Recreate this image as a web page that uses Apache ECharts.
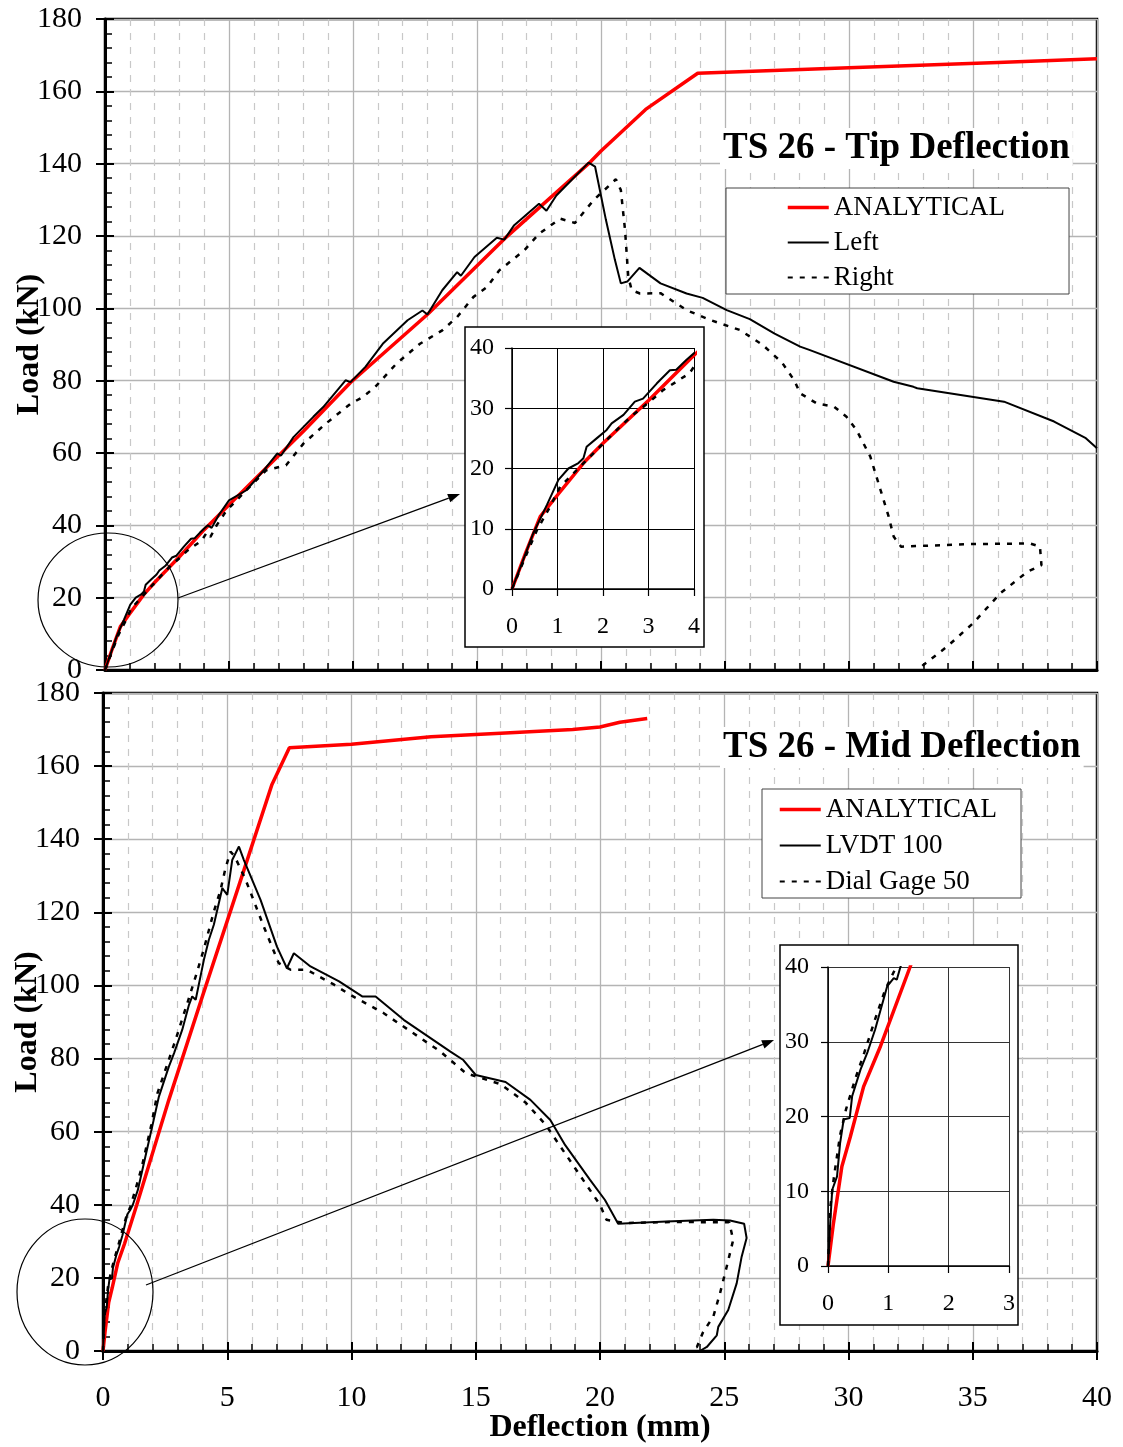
<!DOCTYPE html>
<html>
<head>
<meta charset="utf-8">
<script src="https://cdn.jsdelivr.net/npm/echarts@6.0.0/dist/echarts.min.js"></script>
<style>
  body { margin: 0; background: #fff; }
  #main { width: 1123px; height: 1447px; }
</style>
</head>
<body>
<div id="main"></div>
<script>
// 数据：[挠度 mm, 荷载 kN]
const tipAnalytical = [[0,0],[0.3,6],[0.62,12],[1,15.6],[1.57,20.9],[2,24.2],[3,31.3],[4,38.8],[6,52.5],[8,66],[9.9,79.5],[13,98.3],[16.1,119.2],[19.5,140],[20,143.5],[21.8,155],[23.9,165],[30,166.5],[36,168],[40,169]];
const tipLeft = [[0,0],[0.22,4.3],[0.47,9.3],[0.77,14],[1.02,18.1],[1.24,20],[1.46,20.9],[1.57,21.7],[1.64,23.6],[1.86,25],[2.08,26.4],[2.19,27.5],[2.45,28.9],[2.7,31.1],[2.88,31.6],[3.18,34.1],[3.47,36.3],[3.61,36.4],[3.83,38],[4.01,39.2],[4.15,40],[4.3,39.3],[4.6,43],[5,46.9],[5.7,49.7],[6.4,55.2],[6.95,59.9],[7.1,59.3],[7.6,64.4],[8.4,70],[8.8,72.7],[9.7,80.1],[9.9,79.6],[10.5,83.8],[11.2,90.2],[12.2,96.7],[12.8,99.4],[13,98.3],[13.6,105],[14.2,110],[14.35,109],[14.9,114.2],[15.8,119.5],[16.1,119],[16.5,123],[17.5,128.9],[17.8,127],[18.2,131.2],[19,136.8],[19.5,140.3],[19.76,139.2],[20.2,124.4],[20.56,113.4],[20.8,106.9],[21.06,107.4],[21.55,111.2],[22.4,106.9],[23.45,104.1],[24.1,102.9],[25.07,99.5],[26,97],[27,93],[28.03,89.4],[28.4,88.5],[31.8,79.7],[32.6,78.3],[32.75,77.9],[36.25,74.2],[38.27,68.7],[39.55,64.1],[40,61.3]];
const tipRight = [[0,0],[0.36,6.5],[0.55,9.8],[0.84,13.7],[1.06,17],[1.35,19.2],[1.64,21.4],[1.97,23.9],[2.37,26.9],[2.66,28.9],[3.03,31.1],[3.32,33],[3.9,35.8],[4.1,38],[4.25,36.8],[4.5,40],[4.9,44.1],[5.7,49.7],[6.5,55.2],[7.3,56.6],[8,62.6],[8.9,68.1],[9.9,73.6],[10.4,75.5],[10.9,78.3],[11.75,84.7],[12.7,90.2],[13.6,93.9],[14.2,97.6],[14.85,103.1],[15.4,105.9],[15.9,110.5],[16.9,116],[17.5,120.6],[18.35,124.8],[18.95,123.6],[19.7,129.9],[20.6,135.7],[20.8,132.7],[20.97,121.6],[21.1,108.7],[21.24,105],[21.57,104.1],[22.4,104.2],[23.45,99.5],[24.4,96.8],[25.6,94],[26.5,90],[27.3,85],[27.8,80],[28.03,76.5],[28.7,73.7],[29.4,72.8],[29.9,70],[30.3,66.4],[30.86,59],[31.27,49.8],[31.6,42.4],[31.8,36.9],[32.1,34.1],[34.8,34.8],[37.3,35],[37.7,34.1],[37.76,29],[37.2,27.2],[36.1,21.2],[35,12.9],[33.96,6.5],[33,1.4],[32.8,0]];

const midAnalytical = [[0,0],[0.09,5.7],[0.23,13.3],[0.37,17.3],[0.59,24],[0.87,29.4],[1.36,40],[2.65,68.7],[4,97],[5.5,128],[6.8,155],[7.5,165],[10,166],[13.2,168],[16,169],[18.9,170],[20,170.7],[20.8,172],[21.9,173]];
const midLvdt = [[0,0],[0.04,6.2],[0.07,10.2],[0.15,12],[0.2,16.4],[0.26,19.6],[0.36,19.8],[0.4,22.7],[0.54,26.3],[0.65,28.5],[0.78,31.6],[0.98,37.4],[1.09,38.5],[1.14,38.3],[1.2,40],[1.4,44],[1.6,50],[1.8,56],[2,62],[2.25,69.6],[2.65,77.8],[2.86,81.5],[3.19,87.9],[3.46,94.7],[3.59,97],[3.73,96.1],[4.06,107],[4.26,112.5],[4.46,116.6],[4.8,126.6],[5,124.8],[5.2,134.3],[5.47,138],[5.67,134.3],[6.34,123.4],[7,110.6],[7.4,104.7],[7.68,108.8],[8.35,105.2],[9.5,101.1],[10.43,97],[10.97,97],[12.1,90.6],[13.98,81.9],[14.5,79.6],[15,75.5],[16.2,73.6],[17.2,68.7],[18,63.2],[18.6,56.3],[19.6,46.8],[20.2,41.3],[20.73,34.8],[22.67,35.4],[24.56,35.9],[25.23,35.7],[25.8,34.8],[25.9,30.9],[25.7,25.8],[25.5,18.5],[25.16,11.2],[24.76,6.6],[24.7,4.3],[24.3,1.1],[24.02,0]];
const midDial = [[0,0],[0.04,8],[0.1,12],[0.2,17.5],[0.3,21],[0.45,25],[0.6,28.5],[0.78,33],[0.95,37],[1.1,39.5],[1.3,44],[1.55,50],[1.75,56],[1.95,62],[2.19,70.5],[2.92,85.1],[3.39,95.1],[3.8,104],[4.06,110],[4.46,120.2],[4.73,126.1],[4.93,132.1],[5.13,136.6],[5.3,135.3],[5.74,128.9],[6.47,116.1],[7.07,106.1],[7.55,104.3],[8.2,104.3],[9.3,100.2],[9.96,97.4],[11.3,92.4],[13.58,81.9],[14.6,76],[16,73],[17,68],[17.8,62],[19,50],[20,40],[20.26,35.9],[21,35],[23,35.3],[25.2,35.2],[25.36,30.4],[25.1,23.1],[24.83,15.8],[24.56,9.4],[24.15,5.2],[23.9,1.1],[23.68,0.6]];

const tipLegend = ['ANALYTICAL', 'Left', 'Right'];
const midLegend = ['ANALYTICAL', 'LVDT 100', 'Dial Gage 50'];

const SERIF = "'Liberation Serif', 'Times New Roman', serif";

let myChart = echarts.init(document.getElementById('main'));

// 线型：红色分析线、黑实线、黑虚线
const STYLES = {
  red: { color: '#ff0000', width: 3.5 },
  solid: { color: '#000', width: 2 },
  dash: { color: '#000', width: 2.5, type: [5, 7] }
};

// 主图坐标轴（A：标签+内刻度，B：外刻度）
function mainAxisA(gridIndex, pos, max, interval, showLabel, name, nameGap) {
  return {
    type: 'value', gridIndex: gridIndex, position: pos, min: 0, max: max, interval: interval,
    name: name, nameLocation: 'middle', nameGap: nameGap, nameMoveOverlap: false,
    nameTextStyle: { fontFamily: SERIF, fontWeight: 'bold', fontSize: 32, color: '#000' },
    axisLine: { show: true, onZero: false, lineStyle: { color: '#000', width: 3 } },
    axisTick: { show: true, inside: true, length: 9, lineStyle: { color: '#000', width: 2 } },
    minorTick: { show: true, splitNumber: 5, length: 7, lineStyle: { color: '#000', width: 1.5 } },
    splitLine: { show: true, lineStyle: { color: '#b4b4b4', width: 1.3 } },
    minorSplitLine: { show: pos === 'bottom', lineStyle: { color: '#c8c8c8', width: 1.2, type: [7, 7] } },
    axisLabel: { show: showLabel, margin: pos === 'bottom' ? 32 : 23, fontFamily: SERIF, fontSize: 30, color: '#000' }
  };
}
function mainAxisB(gridIndex, pos, max, interval, showTick) {
  return {
    type: 'value', gridIndex: gridIndex, position: pos, offset: 0, min: 0, max: max, interval: interval,
    axisLine: { show: false },
    axisTick: { show: showTick, inside: false, length: 9, lineStyle: { color: '#000', width: 2 } },
    splitLine: { show: false },
    axisLabel: { show: false }
  };
}
function insetAxis(gridIndex, pos, max, margin, gridColor) {
  return {
    type: 'value', gridIndex: gridIndex, position: pos, min: 0, max: max, interval: pos === 'bottom' ? 1 : 10, z: 11,
    axisLine: { show: true, onZero: false, lineStyle: { color: '#000', width: 1.5 } },
    axisTick: { show: true, inside: false, length: 7, lineStyle: { color: '#000', width: 1.2 } },
    splitLine: { show: true, lineStyle: { color: gridColor, width: 1 } },
    axisLabel: { margin: margin, fontFamily: SERIF, fontSize: 24, color: '#000' }
  };
}

function line(name, data, xi, yi, kind, z) {
  let style = STYLES[kind];
  return {
    name: name, type: 'line', data: data, xAxisIndex: xi, yAxisIndex: yi,
    symbol: 'none', showSymbol: false, lineStyle: style, itemStyle: { color: style.color },
    z: z, clip: true, silent: true
  };
}

function arrow(x1, y1, x2, y2) {
  const a = Math.atan2(y2 - y1, x2 - x1), L = 12, W = 4.5;
  const bx = x2 - L * Math.cos(a), by = y2 - L * Math.sin(a);
  return [
    { type: 'line', shape: { x1: x1, y1: y1, x2: bx, y2: by }, style: { stroke: '#000', lineWidth: 1.3 }, z: 20 },
    { type: 'polygon', shape: { points: [[x2, y2], [bx - W * Math.sin(a), by + W * Math.cos(a)], [bx + W * Math.sin(a), by - W * Math.cos(a)]] }, style: { fill: '#000' }, z: 20 }
  ];
}

// 图例项：线宽/线型与曲线一致
function legendData(names) {
  const kinds = ['red', 'solid', 'dash'];
  return names.map(function (n, i) {
    const s = STYLES[kinds[i]];
    return { name: n, lineStyle: { color: s.color, width: i === 0 ? 3.5 : 2.2, type: s.type || 'solid' } };
  });
}

let legendBase = {
  orient: 'vertical', backgroundColor: '#fff', borderColor: '#444', borderWidth: 1,
  itemWidth: 41, itemHeight: 14, selectedMode: false,
  // 图例只画线，不画圆点
  itemStyle: { color: 'rgba(0,0,0,0)', borderWidth: 0, opacity: 0 },
  textStyle: { fontFamily: SERIF, fontSize: 27, color: '#000' }
};

let option = {
  animation: false,
  backgroundColor: '#fff',
  title: [
    { text: 'TS 26 - Tip Deflection', left: 720, top: 128, backgroundColor: '#fff', padding: [2, 3],
      textStyle: { fontFamily: SERIF, fontWeight: 'bold', fontSize: 37, color: '#000' } },
    { text: 'TS 26 - Mid Deflection', left: 720, top: 727, backgroundColor: '#fff', padding: [2, 3],
      textStyle: { fontFamily: SERIF, fontWeight: 'bold', fontSize: 37, color: '#000' } }
  ],
  legend: [
    Object.assign({}, legendBase, { left: 726, top: 188, itemGap: 8, padding: [6, 64, 3, 60], data: legendData(tipLegend) }),
    Object.assign({}, legendBase, { left: 762, top: 789, itemGap: 9, padding: [7, 24, 3, 16], data: legendData(midLegend) })
  ],
  grid: [
    { left: 105, top: 19, width: 992, height: 651, show: true, borderColor: '#000', borderWidth: 2.5, outerBoundsMode: 'none' },
    { left: 103, top: 693, width: 994, height: 658, show: true, borderColor: '#000', borderWidth: 2.5, outerBoundsMode: 'none' },
    { left: 512, top: 348, width: 182, height: 241, outerBoundsMode: 'none' },
    { left: 828, top: 967, width: 181, height: 299, outerBoundsMode: 'none' }
  ],
  xAxis: [
    mainAxisA(0, 'bottom', 40, 5, false, '', 0),
    mainAxisB(0, 'bottom', 40, 5, false),
    mainAxisA(1, 'bottom', 40, 5, true, 'Deflection (mm)', 61),
    mainAxisB(1, 'bottom', 40, 5, true),
    insetAxis(2, 'bottom', 4, 26, '#000'),
    insetAxis(3, 'bottom', 3, 26, '#333')
  ],
  yAxis: [
    mainAxisA(0, 'left', 180, 20, true, 'Load (kN)', 59),
    mainAxisB(0, 'left', 180, 20, true),
    mainAxisA(1, 'left', 180, 20, true, 'Load (kN)', 59),
    mainAxisB(1, 'left', 180, 20, true),
    insetAxis(2, 'left', 40, 18, '#000'),
    insetAxis(3, 'left', 40, 19, '#333')
  ],
  series: [
    line('ANALYTICAL', tipAnalytical, 0, 0, 'red', 2),
    line('Left', tipLeft, 0, 0, 'solid', 3),
    line('Right', tipRight, 0, 0, 'dash', 3),
    line('ANALYTICAL', midAnalytical, 2, 2, 'red', 2),
    line('LVDT 100', midLvdt, 2, 2, 'solid', 3),
    line('Dial Gage 50', midDial, 2, 2, 'dash', 3),
    line('ANALYTICAL', tipAnalytical, 4, 4, 'red', 12),
    line('Left', tipLeft, 4, 4, 'solid', 13),
    line('Right', tipRight, 4, 4, 'dash', 13),
    line('ANALYTICAL', midAnalytical, 5, 5, 'red', 12),
    line('LVDT 100', midLvdt, 5, 5, 'solid', 13),
    line('Dial Gage 50', midDial, 5, 5, 'dash', 13)
  ],
  graphic: [
    { type: 'rect', shape: { x: 465, y: 327, width: 239, height: 320 }, style: { fill: '#fff', stroke: '#000', lineWidth: 1.5 }, z: 10 },
    { type: 'rect', shape: { x: 780, y: 945, width: 238, height: 380 }, style: { fill: '#fff', stroke: '#000', lineWidth: 1.5 }, z: 10 },
    { type: 'ellipse', shape: { cx: 108, cy: 600, rx: 70, ry: 67 }, style: { fill: 'none', stroke: '#000', lineWidth: 1.2 }, z: 20 },
    { type: 'ellipse', shape: { cx: 85, cy: 1292, rx: 68, ry: 73 }, style: { fill: 'none', stroke: '#000', lineWidth: 1.2 }, z: 20 }
  ].concat(arrow(178, 598, 460, 494), arrow(146, 1285, 774, 1040))
};

myChart.setOption(option);
window.addEventListener('resize', function () {
  myChart.resize();
});
</script>
</body>
</html>
